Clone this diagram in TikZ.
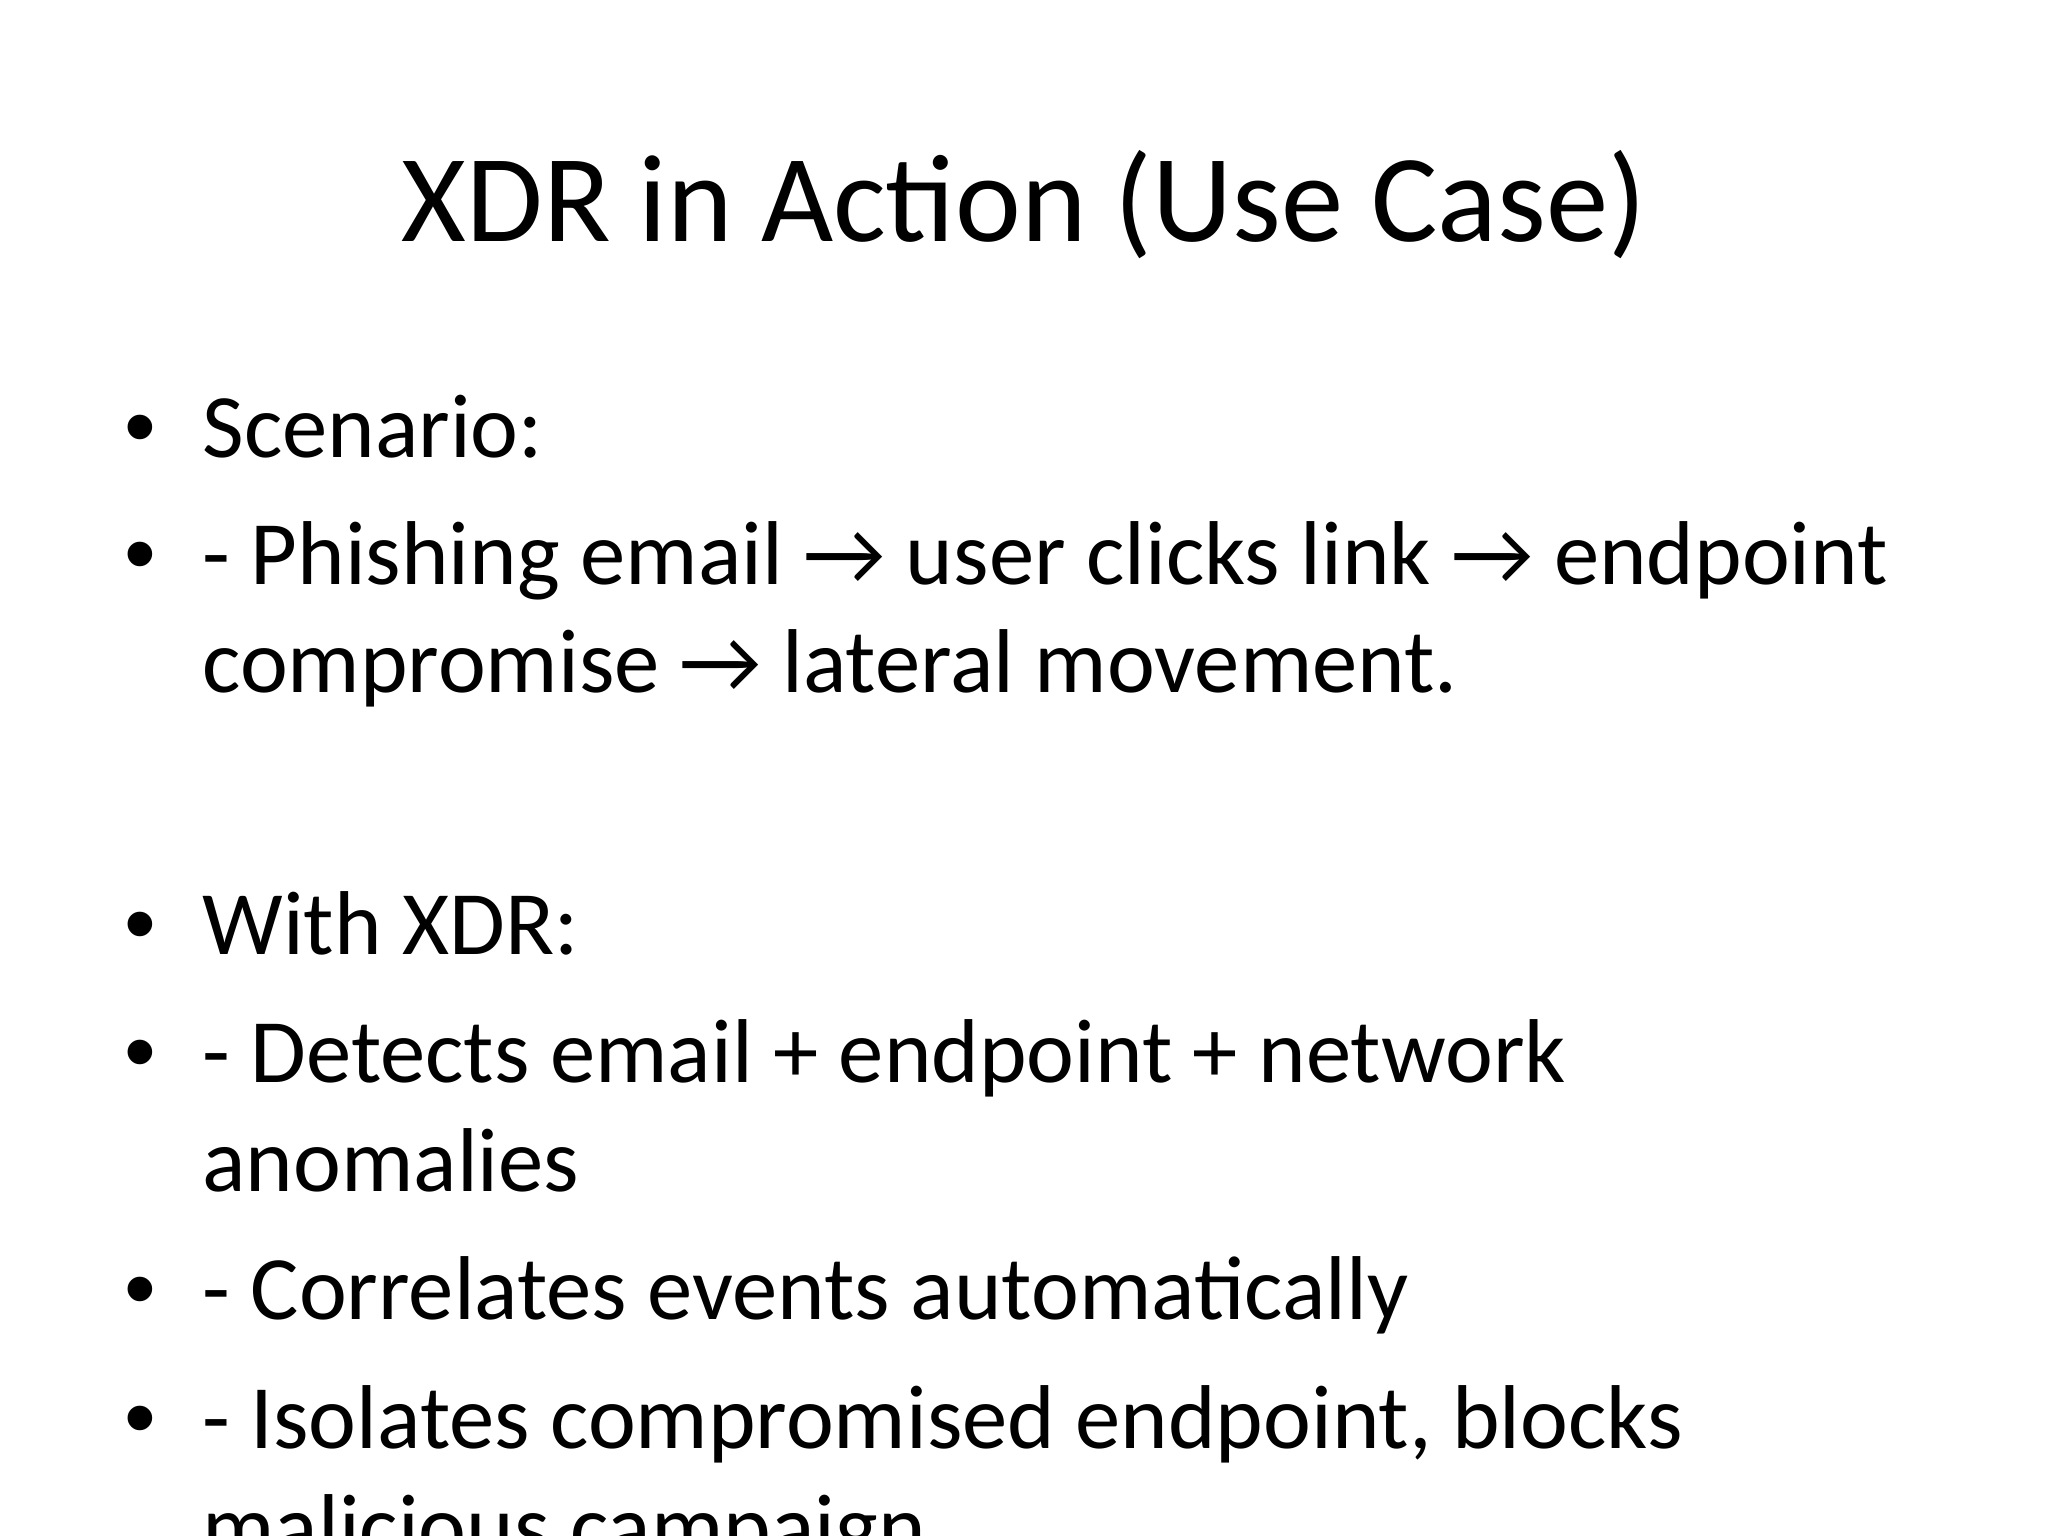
\documentclass[tikz,border=0pt]{standalone}
\usepackage{fontspec}
\setmainfont{Carlito}
\newfontfamily\bulfont{Liberation Sans}
\begin{document}
\begin{tikzpicture}[x=0.016366cm,y=-0.016366cm,
  body/.style={anchor=base west,inner sep=0pt,font=\fontsize{32}{38}\selectfont},
  bul/.style={anchor=base,inner sep=0pt,font=\bulfont\fontsize{32}{38}\selectfont}]
\useasboundingbox (0,0) rectangle (1552,1164);
\clip (0,0) rectangle (1552,1164);
\node[anchor=base,inner sep=0pt,font=\fontsize{44}{52}\selectfont] (title) at (776,183) {XDR in Action (Use Case)};
\foreach \y in {347,443,723,820,1000,1098} \node[bul] at (106,\y) {•};
\node[body] (l1) at (153,347) {Scenario:};
\node[body] (l2) at (153,443) {- Phishing email → user clicks link → endpoint};
\node[body] (l3) at (153,525) {compromise → lateral movement.};
\node[body] (l4) at (153,723) {With XDR:};
\node[body] (l5) at (153,820) {- Detects email + endpoint + network};
\node[body] (l6) at (153,903) {anomalies};
\node[body] (l7) at (153,1000) {- Correlates events automatically};
\node[body] (l8) at (153,1098) {- Isolates compromised endpoint, blocks};
\node[body] (l9) at (153,1180) {malicious campaign.};
\end{tikzpicture}
\end{document}
